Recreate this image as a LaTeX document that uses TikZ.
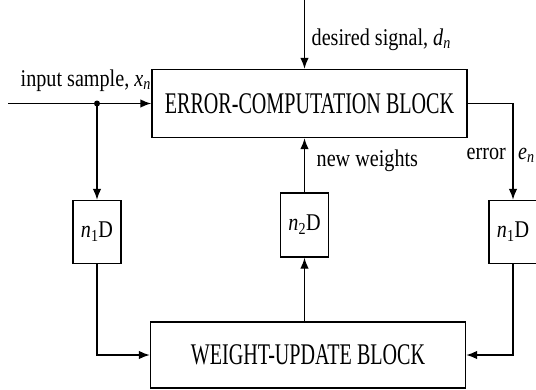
\documentclass[tikz,border=0pt]{standalone}
\usepackage{fontspec}
\setmainfont{Liberation Serif}
\usepackage{graphicx}
\usetikzlibrary{arrows.meta,positioning}

\newcommand{\blkfont}{\fontsize{30}{34}\selectfont}
\newcommand{\lblfont}{\fontsize{24}{28}\selectfont}
\newcommand{\wide}[1]{\scalebox{0.67}[1]{#1}}
\newcommand{\slim}[1]{\scalebox{0.84}[1]{#1}}
\newcommand{\sig}[2]{\textit{#1}\textsubscript{\textit{#2}}}

\begin{document}
\begin{tikzpicture}[x=1pt, y=-1pt, line width=1.4pt, >={Latex[length=11pt,width=8.5pt]},
	blk/.style={draw, minimum width=315pt, minimum height=68pt, inner sep=0pt, font=\blkfont},
	dly/.style={draw, minimum width=48pt, minimum height=63pt, inner sep=0pt, font=\lblfont},
	lbl/.style={inner sep=0pt, anchor=base west, font=\lblfont}]
	\useasboundingbox (0,0) rectangle (536,389);

	% the two big blocks
	\node (err) [blk] at (309.5,103.5) {\wide{ERROR-COMPUTATION BLOCK}};
	\node (upd) [blk, minimum height=66pt] at (308,355) {\wide{WEIGHT-UPDATE BLOCK}};

	% delays
	\node (dl) [dly] at (97,232) {\slim{\textit{n}\textsubscript{1}D}};
	\node (dm) [dly, minimum height=64pt] at (304.5,225) {\slim{\textit{n}\textsubscript{2}D}};
	\node (dr) [dly] at (513,232) {\slim{\textit{n}\textsubscript{1}D}};

	\coordinate (in) at (8,103.5);
	\coordinate (tap) at (dl.north |- err.west);
	\coordinate (dsr) at (304.5,0);

	\draw [->] (in) -- (err.west);
	\fill (tap) circle (3pt);
	\draw [->] (tap) -- (dl.north);
	\draw [->] (dsr) -- (dsr |- err.north);
	\draw [->] (err.east) -| (dr.north);
	\draw [->] (dl.south) |- (upd.west);
	\draw [->] (dr.south) |- (upd.east);
	\draw [->] (dm.south |- upd.north) -- (dm.south);
	\draw [->] (dm.north) -- (dm.north |- err.south);

	% labels
	\node (lin) [lbl] at (20,86) {\slim{input sample, \sig{x}{n}}};
	\node (ldsr) [lbl] at (311,45) {\slim{desired signal, \sig{d}{n}}};
	\node (lnew) [lbl] at (316,166) {\slim{new weights}};
	\node (lerr) [lbl] at (466,159) {\slim{error}};
	\node (len) [lbl] at (517.5,159) {\slim{\sig{e}{n}}};
\end{tikzpicture}
\end{document}
